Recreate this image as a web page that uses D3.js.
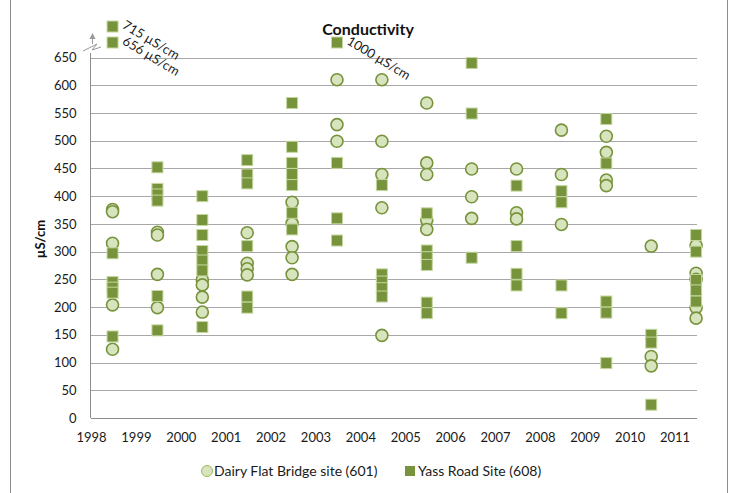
<!DOCTYPE html>
<html><head><meta charset="utf-8">
<script src="https://cdn.jsdelivr.net/npm/d3@7"></script>
<style>body{margin:0;background:#fff;} text{font-family:Lato,"Open Sans",sans-serif;}</style>
</head><body><svg id="c" width="735" height="493"></svg>
<script>
const years = [1998,1999,2000,2001,2002,2003,2004,2005,2006,2007,2008,2009,2010,2011];
const yTicks = [0,50,100,150,200,250,300,350,400,450,500,550,600,650];
const seriesNames = ["Dairy Flat Bridge site (601)", "Yass Road Site (608)"];
// Dairy Flat Bridge (601) circles
const dairyYears = [1998,1998,1998,1998,1998, 1999,1999,1999,1999, 2000,2000,2000,2000, 2001,2001,2001,2001,
  2002,2002,2002,2002,2002, 2003,2003,2003, 2004,2004,2004,2004,2004, 2005,2005,2005,2005,2005,
  2006,2006,2006, 2007,2007,2007, 2008,2008,2008, 2009,2009,2009,2009, 2010,2010,2010, 2011,2011,2011,2011,2011];
const dairyValues = [376,372,315,204,124, 335,330,259,199, 249,240,218,191, 334,279,269,258,
  389,351,309,289,259, 610,529,499, 610,499,439,379,149, 568,460,439,357,340,
  449,399,360, 449,370,359, 519,439,349, 508,479,429,419, 310,111,94, 311,261,250,199,180];
// Yass Road (608) squares
const yassYears = [1998,1998,1998,1998,1998,1998,1998, 1999,1999,1999,1999,1999,1999, 2000,2000,2000,2000,2000,2000,2000,
  2001,2001,2001,2001,2001,2001, 2002,2002,2002,2002,2002,2002,2002, 2003,2003,2003,2003,
  2004,2004,2004,2004,2004, 2005,2005,2005,2005,2005,2005, 2006,2006,2006, 2007,2007,2007,2007,
  2008,2008,2008,2008, 2009,2009,2009,2009,2009, 2010,2010,2010, 2011,2011,2011,2011,2011];
const yassValues = [715,656,297,245,235,226,147, 452,413,403,392,220,158, 400,357,330,301,284,266,164,
  465,439,423,310,219,199, 568,489,460,440,420,370,340, 1000,460,360,320,
  420,259,246,234,219, 369,302,290,276,208,189, 640,549,289, 419,310,260,239,
  409,389,239,189, 539,459,210,190,99, 150,136,24, 330,300,249,230,210];

const svg = d3.select("#c");
const x = d3.scaleLinear().domain([1998, 2011.5]).range([91, 697]);
const y = d3.scaleLinear().domain([0, 650]).range([418, 57.5]);
const yMax = 650;

// chart border
svg.append("rect").attr("x",10.5).attr("y",-5).attr("width",717).attr("height",510)
  .attr("fill","none").attr("stroke","#8c8c8c").attr("stroke-width",1);

// gridlines
svg.append("g").selectAll("line").data(yTicks.filter(d=>d>0)).join("line")
  .attr("x1",91).attr("x2",697).attr("y1",d=>Math.round(y(d))+0.5).attr("y2",d=>Math.round(y(d))+0.5)
  .attr("stroke","#a8a8a8").attr("stroke-width",1);

// axes
const yAxis = d3.axisLeft(y).tickValues(yTicks).tickSize(0).tickPadding(14);
const gy = svg.append("g").attr("transform","translate(90.5,0)").call(yAxis);
gy.select(".domain").remove();
gy.selectAll("text").attr("font-size",13).attr("fill","#1a1a1a");
svg.append("line").attr("x1",90.5).attr("x2",90.5).attr("y1",418).attr("y2",53).attr("stroke","#8c8c8c");

const xAxis = d3.axisBottom(x).tickValues(years).tickFormat(d3.format("d")).tickSize(0).tickPadding(14);
const gx = svg.append("g").attr("transform","translate(0,418.5)").call(xAxis);
gx.select(".domain").attr("stroke","#8c8c8c").attr("d","M91,0H697");
gx.selectAll("text").attr("font-size",13).attr("fill","#1a1a1a");

// axis break symbol
svg.append("path").attr("d","M83,51 L97,44 L92,50 L101,47").attr("fill","none").attr("stroke","#999").attr("stroke-width",1);
svg.append("line").attr("x1",92.5).attr("x2",92.5).attr("y1",44).attr("y2",38).attr("stroke","#999");
svg.append("path").attr("d","M89.5,39 L92.5,33 L95.5,39 Z").attr("fill","#999");

// title
svg.append("text").attr("x",368).attr("y",35).attr("text-anchor","middle")
  .attr("font-size",16).attr("font-weight","bold").attr("fill","#111").text("Conductivity");
// y label
svg.append("text").attr("transform","translate(45,239) rotate(-90)").attr("text-anchor","middle")
  .attr("font-size",13).attr("font-weight","bold").attr("fill","#111").text("µS/cm");

const xPos = yr => x(yr + 0.48);

// build data
const dairy = dairyYears.map((yr,i)=>({yr, v:dairyValues[i]}));
const yass = yassYears.map((yr,i)=>({yr, v:yassValues[i]}));
// overflow values stacked above the plot
function posY(d, arr){
  if (d.v <= yMax) return y(d.v);
  const over = arr.filter(e=>e.yr===d.yr && e.v>yMax).map(e=>e.v).sort((a,b)=>a-b);
  const k = over.indexOf(d.v);
  return y(yMax) - 15 - k*16;
}

// circles
svg.append("g").selectAll("circle").data(dairy).join("circle")
  .attr("cx",d=>xPos(d.yr)).attr("cy",d=>posY(d,dairy)).attr("r",6)
  .attr("fill","#d7e4bd").attr("stroke","#77933c").attr("stroke-width",1.6);

// squares
svg.append("g").selectAll("rect").data(yass).join("rect")
  .attr("x",d=>xPos(d.yr)-5.5).attr("y",d=>posY(d,yass)-5.5).attr("width",11).attr("height",11)
  .attr("fill","#77933c").attr("stroke","#c4d79f").attr("stroke-width",1);

// overflow labels
const overflow = yass.filter(d=>d.v>yMax);
svg.append("g").selectAll("text").data(overflow).join("text")
  .attr("transform",d=>`translate(${xPos(d.yr)+9},${posY(d,yass)+1}) rotate(31)`)
  .attr("font-size",13).attr("fill","#1a1a1a").text(d=>d.v+" µS/cm");

// legend
const lg = svg.append("g");
lg.append("circle").attr("cx",207).attr("cy",471).attr("r",5.5).attr("fill","#d7e4bd").attr("stroke","#9bbb59").attr("stroke-width",1);
lg.append("text").attr("x",214).attr("y",476).attr("font-size",14).attr("fill","#1a1a1a").text(seriesNames[0]);
lg.append("rect").attr("x",405).attr("y",466).attr("width",10).attr("height",10).attr("fill","#77933c");
lg.append("text").attr("x",418).attr("y",476).attr("font-size",14).attr("fill","#1a1a1a").text(seriesNames[1]);
</script></body></html>
